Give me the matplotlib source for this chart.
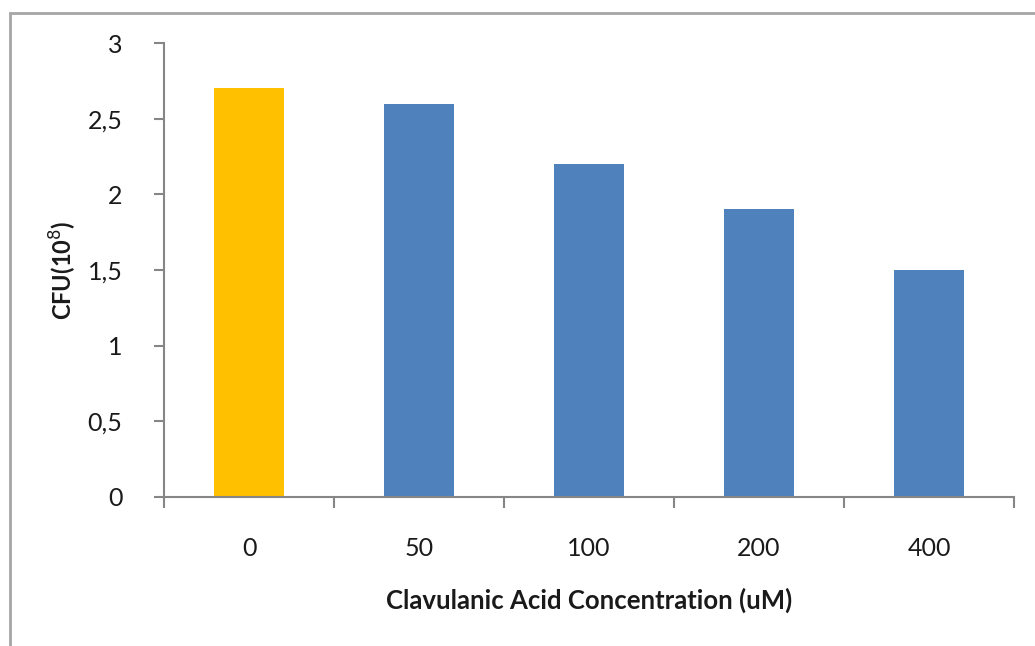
import matplotlib.pyplot as plt
from matplotlib.patches import Rectangle
from matplotlib.ticker import FixedLocator, FuncFormatter


CONCENTRATIONS = ["0", "50", "100", "200", "400"]
CFU_VALUES = [2.7, 2.6, 2.2, 1.9, 1.5]
BAR_COLORS = ["#FFC000", "#4F81BD", "#4F81BD", "#4F81BD", "#4F81BD"]
Y_TICKS = [0, 0.5, 1, 1.5, 2, 2.5, 3]

AXIS_GRAY = "#868686"
TEXT_COLOR = "#1a1a1a"


def comma_decimal(value, pos):
    text = f"{value:g}"
    return text.replace(".", ",")


def main():
    plt.rcParams["font.family"] = ["Lato", "DejaVu Sans"]

    fig = plt.figure(figsize=(10.35, 6.46), dpi=100)
    ax = fig.add_axes([0.1585, 0.2307, 0.8212, 0.7027])

    positions = range(len(CONCENTRATIONS))
    ax.bar(positions, CFU_VALUES, width=0.41, color=BAR_COLORS, zorder=2)

    ax.set_xlim(-0.5, len(CONCENTRATIONS) - 0.5)
    ax.set_ylim(0, 3)

    ax.set_xticks(list(positions))
    ax.set_xticklabels(CONCENTRATIONS, fontsize=18, color=TEXT_COLOR)
    ax.tick_params(axis="x", which="major", length=0, pad=29)
    boundaries = [i - 0.5 for i in range(len(CONCENTRATIONS) + 1)]
    ax.xaxis.set_minor_locator(FixedLocator(boundaries))
    ax.tick_params(axis="x", which="minor", length=8, width=1.5,
                   color=AXIS_GRAY, direction="out")

    ax.yaxis.set_major_locator(FixedLocator(Y_TICKS))
    ax.yaxis.set_major_formatter(FuncFormatter(comma_decimal))
    ax.tick_params(axis="y", length=7, width=1.5, color=AXIS_GRAY,
                   labelsize=18, labelcolor=TEXT_COLOR, pad=23)

    for side in ["top", "right"]:
        ax.spines[side].set_visible(False)
    for side in ["left", "bottom"]:
        ax.spines[side].set_color(AXIS_GRAY)
        ax.spines[side].set_linewidth(1.5)

    ax.set_ylabel("CFU(10$^{8}$)", fontsize=17, fontweight="bold",
                  color=TEXT_COLOR)
    ax.yaxis.set_label_coords(-0.1, 0.5)
    ax.set_xlabel("Clavulanic Acid Concentration (uM)", fontsize=18.5,
                  fontweight="bold", color=TEXT_COLOR, labelpad=20)

    # outer frame of the chart area
    frame = Rectangle((10 / 1035, -0.1), 1.2, 0.1 + (646 - 13) / 646,
                      transform=fig.transFigure, fill=False,
                      edgecolor="#a6a6a6", linewidth=2, zorder=0)
    fig.patches.append(frame)

    fig.savefig("out.png", dpi=100, facecolor="white")


if __name__ == "__main__":
    main()
